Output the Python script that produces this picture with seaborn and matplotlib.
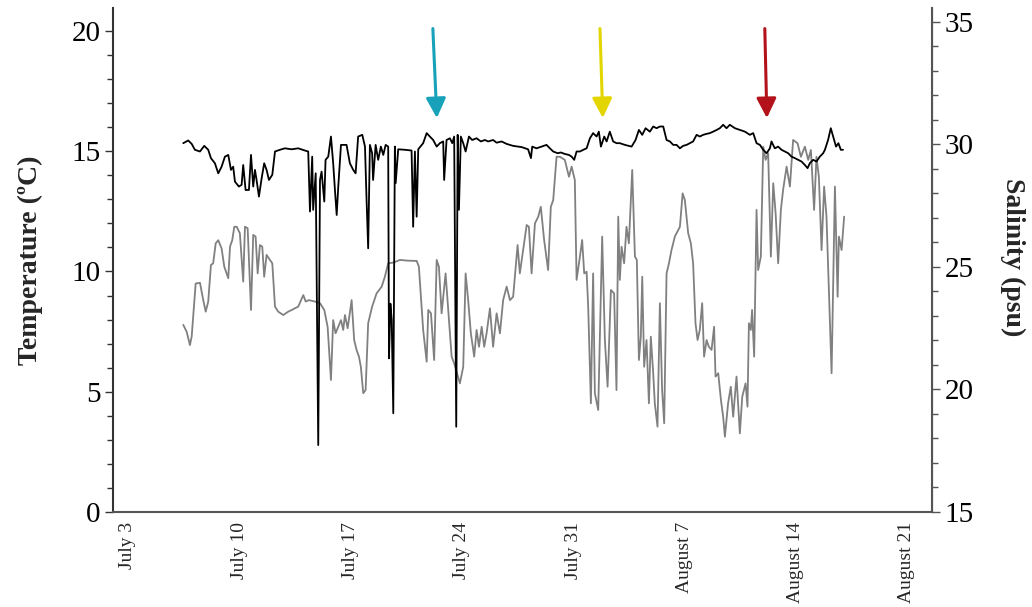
import matplotlib
matplotlib.use('Agg')
import matplotlib.pyplot as plt
from matplotlib.ticker import MultipleLocator
import seaborn as sns
import pandas as pd

# time axis: days after July 3
tick_days = [0, 7, 14, 21, 28, 35, 42, 49]
tick_labels = ['July 3', 'July 10', 'July 17', 'July 24', 'July 31',
               'August 7', 'August 14', 'August 21']

temp_day = [3.48,3.69,3.90,4.01,4.26,4.53,4.74,4.89,5.05,5.22,5.36,5.52,5.68,5.89,6.06,6.21,6.31,6.42,6.56,6.69,
            6.84,7.04,7.25,7.36,7.53,7.74,7.88,8.03,8.16,8.30,8.45,8.57,8.72,8.93,9.08,9.25,9.45,9.77,10.08,10.30,
            10.71,11.03,11.18,11.38,11.76,12.08,12.35,12.56,12.77,12.91,13.06,13.23,13.40,13.54,13.65,13.82,14.07,14.23,14.38,14.53,
            14.65,14.80,14.95,15.11,15.36,15.64,15.96,16.16,16.37,16.69,17.11,17.63,18.16,18.30,18.57,18.79,18.89,19.06,19.26,19.42,
            19.56,19.73,19.98,20.19,20.36,20.52,20.88,21.09,21.24,21.40,21.57,21.78,21.93,22.08,22.25,22.41,22.56,22.77,22.97,23.19,
            23.40,23.60,23.82,24.03,24.23,24.51,24.65,24.86,25.08,25.22,25.39,25.60,25.81,25.97,26.18,26.43,26.60,26.75,26.96,27.17,
            27.48,27.74,27.91,28.11,28.22,28.43,28.57,28.70,28.85,28.95,29.12,29.26,29.37,29.58,29.83,30.00,30.17,30.38,30.58,30.73,
            30.84,30.94,31.05,31.21,31.36,31.51,31.72,31.89,32.01,32.14,32.26,32.35,32.47,32.62,32.77,32.89,33.04,33.14,33.31,33.46,
            33.60,33.73,33.88,34.03,34.19,34.40,34.72,34.89,35.03,35.24,35.41,35.55,35.70,35.83,35.97,36.12,36.24,36.40,36.54,36.71,
            36.87,36.96,37.13,37.30,37.44,37.55,37.75,37.92,38.07,38.28,38.49,38.64,38.85,38.97,39.06,39.18,39.26,39.39,39.54,39.64,
            39.81,39.96,40.11,40.27,40.44,40.59,40.74,40.90,41.07,41.21,41.43,41.64,41.84,42.12,42.33,42.58,42.79,42.96,43.16,43.31,
            43.46,43.63,43.79,43.94,44.26,44.47,44.64,44.72,44.89,45.05]
temp_c = [7.78,7.5,6.94,7.3,9.5,9.53,8.8,8.33,8.75,10.27,10.34,11.17,11.3,10.96,10.2,9.92,9.72,11.03,11.3,11.86,
          11.86,11.59,9.58,11.86,11.8,8.4,11.52,11.45,9.92,11.1,11.03,9.78,10.69,10.48,10.34,8.54,8.33,8.19,8.33,8.4,
          8.54,9.02,8.75,8.81,8.75,8.68,8.4,7.7,5.49,7.98,7.43,7.7,7.98,7.57,8.19,7.64,8.81,7.15,6.74,6.46,
          6.04,4.94,5.07,7.85,8.54,9.09,9.37,9.78,10.34,10.37,10.48,10.45,10.44,10.2,7.57,6.25,8.4,8.26,6.32,10.48,
          10.2,8.26,9.92,7.98,6.46,6.18,5.35,6.04,9.92,8.81,7.43,6.46,7.57,6.87,7.7,6.87,7.43,8.47,6.87,8.26,
          7.43,8.81,9.37,8.81,8.95,11.1,9.92,10.89,11.93,11.86,9.92,12.0,12.28,12.69,11.3,10.06,12.69,12.97,14.77,14.77,
          14.64,13.94,14.36,13.8,9.65,10.62,11.31,9.92,9.99,8.54,4.52,9.92,4.94,4.24,11.45,7.15,5.21,9.23,9.09,5.07,
          12.28,9.65,11.03,10.34,11.86,11.17,14.22,10.62,10.48,6.32,7.29,9.78,6.04,7.15,4.52,7.29,5.77,4.52,3.55,8.68,
          5.07,3.69,9.92,10.34,10.89,11.45,11.86,13.25,12.97,11.59,11.17,10.34,7.85,7.15,7.57,8.68,6.46,7.15,6.87,6.74,
          7.7,5.63,5.77,4.66,3.96,3.13,4.52,5.21,3.96,5.63,3.27,4.79,5.35,4.38,7.85,7.57,8.4,6.46,12.56,10.06,
          10.62,15.19,14.64,14.92,10.62,13.67,12.42,10.34,12.56,13.39,14.36,13.53,15.47,15.33,14.77,15.19,14.64,15.05,12.56,14.77,
          13.94,10.89,13.53,12.28,5.77,13.53,8.95,11.45,10.89,12.28]

sal_day = [3.48,3.79,4.01,4.21,4.53,4.80,5.05,5.22,5.47,5.68,5.89,6.10,6.31,6.48,6.62,6.73,6.98,7.15,7.25,7.40,
           7.61,7.74,7.88,7.99,8.09,8.24,8.41,8.57,8.72,8.87,9.08,9.25,9.56,9.87,10.30,10.71,11.13,11.34,11.45,11.59,
           11.65,11.81,11.97,12.08,12.18,12.35,12.43,12.60,12.77,12.91,13.02,13.13,13.23,13.40,13.75,13.96,14.17,14.32,14.48,14.74,
           14.91,15.01,15.11,15.22,15.36,15.42,15.58,15.74,15.91,16.06,16.21,16.37,16.42,16.51,16.59,16.69,16.79,16.84,17.00,17.42,
           17.84,17.94,18.05,18.16,18.26,18.57,18.79,18.99,19.20,19.42,19.62,19.83,19.89,20.04,20.25,20.40,20.52,20.65,20.74,20.82,
           20.94,21.09,21.24,21.45,21.65,21.93,22.20,22.45,22.66,22.97,23.19,23.50,23.82,24.23,24.76,25.17,25.35,25.43,25.70,26.02,
           26.33,26.54,26.75,27.03,27.23,27.48,27.74,27.91,28.07,28.22,28.43,28.64,28.85,29.06,29.26,29.48,29.62,29.75,29.96,30.11,
           30.31,30.52,30.73,30.94,31.26,31.68,31.93,32.14,32.35,32.56,32.83,33.04,33.25,33.46,33.67,33.88,34.09,34.30,34.51,34.72,
           34.92,35.14,35.35,35.55,35.77,35.97,36.18,36.40,36.60,36.81,37.03,37.23,37.44,37.65,37.86,38.18,38.49,38.81,39.12,39.33,
           39.54,39.75,39.96,40.17,40.38,40.48,40.69,40.90,41.11,41.32,41.53,41.74,41.95,42.16,42.37,42.58,42.75,42.89,43.10,43.31,
           43.52,43.73,43.84,44.04,44.21,44.36,44.54,44.69,44.84,44.98]
sal_psu = [30.05,30.16,30.02,29.78,29.71,29.94,29.78,29.44,29.23,28.82,29.09,29.5,29.57,28.96,29.09,28.48,28.28,28.35,29.16,28.14,
           28.14,29.57,28.28,28.96,28.55,27.87,28.62,29.23,28.96,28.55,28.76,29.71,29.78,29.84,29.8,29.84,29.75,29.71,27.26,29.5,
           27.33,28.82,17.73,28.55,28.89,27.67,29.37,29.5,30.32,29.23,28.14,27.12,28.28,29.98,29.98,29.23,28.96,28.82,30.32,30.39,
           29.91,27.73,25.76,29.98,29.64,28.55,29.98,29.37,29.91,29.57,29.98,29.91,21.27,23.5,22.84,19.03,29.91,28.42,29.8,29.78,
           29.75,26.64,29.71,27.05,29.8,30.05,30.46,30.32,30.18,29.91,30.05,30.12,28.55,30.18,30.25,30.05,30.32,18.48,30.39,27.33,
           30.32,30.05,29.71,30.32,30.18,30.25,30.12,30.18,30.12,30.18,30.07,30.12,30.02,29.94,29.89,29.8,29.44,29.91,29.84,29.91,
           29.98,29.84,29.71,29.64,29.67,29.61,29.57,29.5,29.37,29.71,29.71,29.78,29.84,30.25,30.46,30.32,30.52,29.91,30.32,30.12,
           30.52,30.12,30.05,30.05,29.98,29.91,30.18,30.59,30.39,30.66,30.52,30.73,30.66,30.73,30.73,30.18,30.12,29.98,29.98,29.84,
           29.94,29.98,30.05,30.12,30.39,30.32,30.39,30.43,30.46,30.52,30.59,30.66,30.8,30.66,30.8,30.66,30.59,30.52,30.39,30.46,
           30.05,29.98,29.78,29.64,29.84,30.12,29.84,29.91,29.78,29.71,29.64,29.5,29.44,29.37,29.3,29.16,29.03,29.23,29.37,29.3,
           29.5,29.64,29.78,30.18,30.66,30.32,29.91,30.05,29.78,29.78]

# event arrows: (tail day, tip day), colour
arrow_days = [(19.18, 19.43), (29.69, 29.87), (40.06, 40.19)]
arrow_colors = ['#17a2ba', '#e3d600', '#b3121a']

sns.set_style('ticks')
plt.rcParams['font.family'] = ['Liberation Serif', 'DejaVu Serif']

temp = pd.DataFrame({'day': temp_day, 'temp': temp_c})
sal = pd.DataFrame({'day': sal_day, 'sal': sal_psu})

fig = plt.figure(figsize=(10.32, 6.07), dpi=100)
ax = fig.add_axes([0.1095, 0.1565, 0.7935, 0.8305])
ax2 = ax.twinx()

sns.lineplot(data=temp, x='day', y='temp', ax=ax, color='#808080', linewidth=1.3,
             estimator=None, sort=False)
sns.lineplot(data=sal, x='day', y='sal', ax=ax2, color='black', linewidth=1.3,
             estimator=None, sort=False)

ax.set_xlim(-0.94, 50.57)
ax.set_ylim(0, 20.96)
ax2.set_ylim(15, 35.57)

ax.set_xticks(tick_days)
ax.set_xticklabels(tick_labels, rotation=90, fontsize=14)
ax.tick_params(axis='x', length=0, pad=7)

ax.yaxis.set_major_locator(MultipleLocator(5))
ax.yaxis.set_minor_locator(MultipleLocator(1))
ax2.yaxis.set_major_locator(MultipleLocator(5))
ax2.yaxis.set_minor_locator(MultipleLocator(1))
ax.tick_params(axis='y', which='major', length=6, width=1, labelsize=21, pad=3, colors='#333333', labelcolor='black')
ax.tick_params(axis='y', which='minor', length=4, width=1, colors='#333333')
ax2.tick_params(axis='y', which='major', length=6, width=1, labelsize=21, pad=3, colors='#555555', labelcolor='black')
ax2.tick_params(axis='y', which='minor', length=4, width=1, colors='#555555')

ax.set_xlabel('')
ax.set_ylabel('')
ax2.set_ylabel('')
for a in (ax, ax2):
    a.spines['top'].set_visible(False)
    a.grid(False)
ax.spines['left'].set_color('#333333')
ax.spines['left'].set_linewidth(1.5)
ax.spines['bottom'].set_color('#555555')
ax.spines['bottom'].set_linewidth(1.5)
ax2.spines['right'].set_visible(True)
ax2.spines['right'].set_color('#555555')
ax2.spines['right'].set_linewidth(1.5)
ax2.spines['left'].set_visible(False)
ax2.spines['bottom'].set_visible(False)

fig.text(30 / 1032, 1 - 260 / 607, 'Temperature (ºC)', rotation=90, ha='center', va='center',
         fontsize=20, fontweight='bold')
fig.text(1013 / 1032, 1 - 257 / 607, 'Salinity (psu)', rotation=270, ha='center', va='center',
         fontsize=20, fontweight='bold')

for (d0, d1), c in zip(arrow_days, arrow_colors):
    ax.annotate('', xy=(d1, 16.38), xytext=(d0, 20.1),
                arrowprops=dict(arrowstyle='-|>,head_length=0.6,head_width=0.3', color=c,
                                lw=2.2, mutation_scale=20, shrinkA=0, shrinkB=0))

fig.savefig('out.png', dpi=100)
